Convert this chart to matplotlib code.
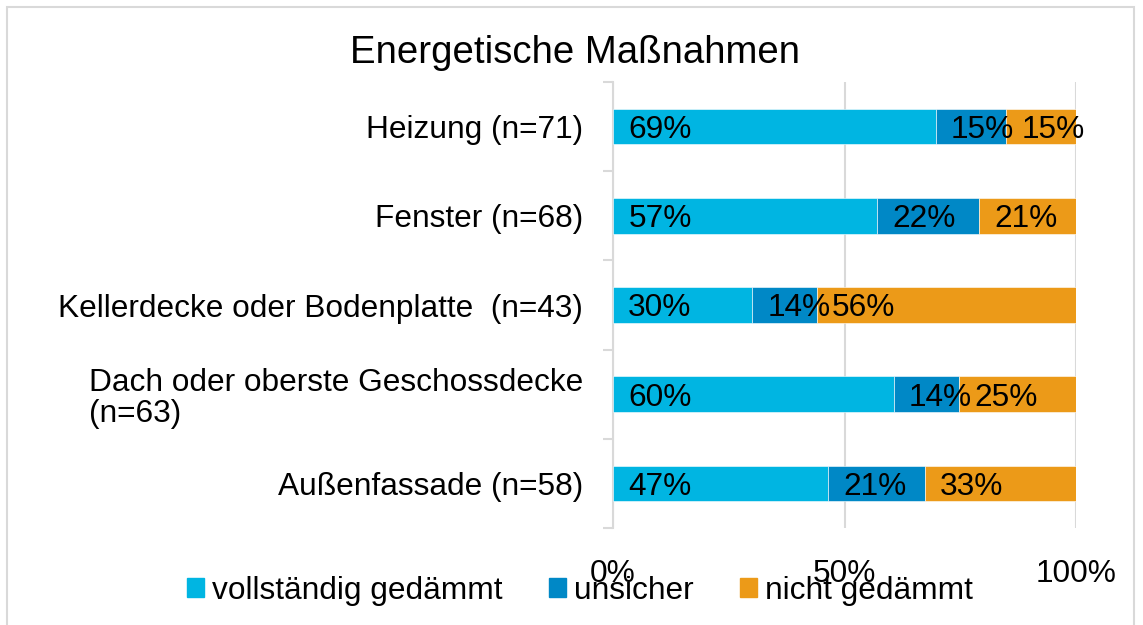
import matplotlib.pyplot as plt
import matplotlib.patches as mpatches
import numpy as np

plt.rcParams['font.family'] = ['Liberation Sans', 'DejaVu Sans']

# categories and shares (percent) per answer
categories = ["Heizung (n=71)", "Fenster (n=68)", "Kellerdecke oder Bodenplatte  (n=43)",
              "Dach oder oberste Geschossdecke\n(n=63)", "Außenfassade (n=58)"]
vollstaendig = [69, 57, 30, 60, 47]
unsicher = [15, 22, 14, 14, 21]
nicht = [15, 21, 56, 25, 33]
series_names = ["vollständig gedämmt", "unsicher", "nicht gedämmt"]
colors = ["#00B5E2", "#0088C6", "#EC9A18"]
xtick_vals = [0, 0.5, 1.0]
xtick_labels = ["0%", "50%", "100%"]

W, H = 1143, 625
fig = plt.figure(figsize=(W / 100, H / 100), dpi=100)
ax = fig.add_axes([613 / W, 1 - 528 / H, 463 / W, 446 / H])

data = np.array([vollstaendig, unsicher, nicht], dtype=float)
shares = data / data.sum(axis=0)  # 100% stacked
ypos = np.arange(len(categories))
left = np.zeros(len(categories))
grey = "#d9d9d9"
fs = 22.8

for k in range(3):
    ax.barh(ypos, shares[k], left=left, height=0.4, color=colors[k],
            edgecolor="white", linewidth=0.4, zorder=3)
    for i in range(len(categories)):
        ax.annotate(f"{data[k, i]:.0f}%", xy=(left[i], ypos[i]), xytext=(11, 0),
                    textcoords="offset points", ha="left", va="center_baseline",
                    fontsize=fs, color="black", zorder=4)
    left += shares[k]

ax.set_xlim(0, 1)
ax.set_ylim(len(categories) - 0.5, -0.5)

# x axis: percent labels and vertical gridlines
ax.set_xticks(xtick_vals)
ax.set_xticklabels(xtick_labels, fontsize=fs)
ax.tick_params(axis="x", length=0, pad=22)
ax.grid(axis="x", color=grey, linewidth=1.5, zorder=0)

# y axis: ticks between categories, labels centred on bars
ax.set_yticks(np.arange(-0.5, len(categories), 1.0))
ax.set_yticklabels([])
ax.tick_params(axis="y", which="major", length=7.2, width=1.5, color=grey)
ax.set_yticks(ypos, minor=True)
ax.set_yticklabels(categories, minor=True, fontsize=fs, linespacing=1.05)
ax.tick_params(axis="y", which="minor", length=0, pad=21.6)
for lab in ax.get_yticklabels(minor=True):
    lab.set_multialignment("left")

for s in ["top", "right", "bottom"]:
    ax.spines[s].set_visible(False)
ax.spines["left"].set_color(grey)
ax.spines["left"].set_linewidth(1.5)

fig.text(575 / W, 1 - 63 / H, "Energetische Maßnahmen", ha="center", va="baseline",
         fontsize=27.6)

handles = [mpatches.Patch(color=c) for c in colors]
fig.legend(handles, series_names, loc="center", bbox_to_anchor=(580 / W, 1 - 591 / H),
           ncol=3, frameon=False, fontsize=fs, handlelength=0.55, handleheight=0.55,
           handletextpad=0.25, columnspacing=1.45, borderpad=0)

# outer chart border
fig.patches.append(mpatches.Rectangle((7 / W, -0.05), 1127 / W, 1 - 7 / H + 0.05,
                                      transform=fig.transFigure, fill=False,
                                      edgecolor=grey, linewidth=1.5))

fig.savefig("out.png", dpi=100)
